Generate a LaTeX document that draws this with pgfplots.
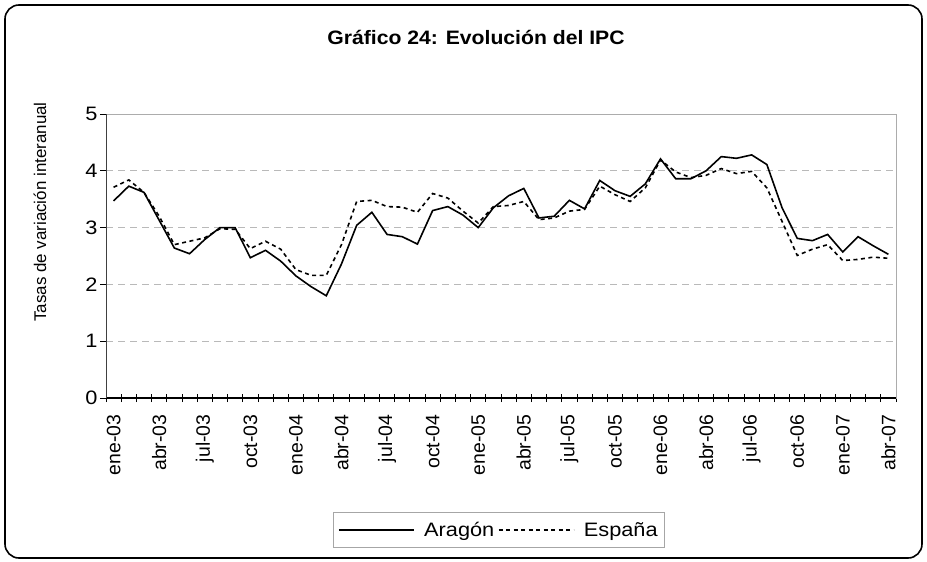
\documentclass[border=0pt]{standalone}
\usepackage{pgfplots}
\pgfplotsset{compat=1.18}
\usepackage{fontspec}
\setmainfont{Liberation Sans}
\newfontfamily\titlefont{Liberation Sans}[FakeStretch=1.09]
\newfontfamily\widefont{Liberation Sans}[FakeStretch=1.12]

\pgfplotstableread{
i A E
0 3.47 3.71
1 3.73 3.84
2 3.62 3.62
3 3.13 3.20
4 2.64 2.70
5 2.54 2.76
6 2.79 2.82
7 3.00 2.98
8 3.00 2.97
9 2.47 2.63
10 2.60 2.76
11 2.41 2.62
12 2.15 2.26
13 1.96 2.16
14 1.80 2.16
15 2.36 2.70
16 3.04 3.46
17 3.27 3.48
18 2.88 3.37
19 2.84 3.36
20 2.71 3.27
21 3.30 3.60
22 3.37 3.52
23 3.22 3.29
24 3.00 3.08
25 3.35 3.37
26 3.56 3.39
27 3.69 3.46
28 3.17 3.14
29 3.20 3.17
30 3.48 3.29
31 3.33 3.32
32 3.83 3.73
33 3.65 3.58
34 3.55 3.46
35 3.77 3.70
36 4.21 4.19
37 3.86 3.98
38 3.86 3.88
39 4.00 3.92
40 4.25 4.04
41 4.22 3.95
42 4.28 3.99
43 4.11 3.70
44 3.35 3.11
45 2.81 2.51
46 2.77 2.62
47 2.88 2.70
48 2.57 2.42
49 2.84 2.44
50 2.68 2.48
51 2.53 2.46
}\ipcdata

\newcommand\tickfont{\fontsize{19.5}{22}\selectfont}
\newcommand\widetickfont{\widefont\fontsize{19.5}{22}\selectfont}

\begin{document}
\begin{tikzpicture}[font=\tickfont]
\useasboundingbox (0,0) rectangle (927bp,-562bp);
\draw[line width=1.6bp, rounded corners=14bp] (5bp,-5bp) rectangle (922bp,-558bp);
\node[font=\titlefont\bfseries\fontsize{19.5}{22}\selectfont] at (476bp,-37bp) {Gráfico 24: Evolución del IPC};
\node[rotate=90, font=\fontsize{17}{20}\selectfont] at (40bp,-212bp) {Tasas de variación interanual};
\begin{axis}[
  at={(106bp,-398bp)}, anchor=south west, scale only axis,
  width=790bp, height=284bp,
  font=\tickfont,
  xmin=-0.5, xmax=51.5, ymin=0, ymax=5,
  ytick={0,1,...,5},
  xtick={0,3,...,51},
  xticklabels={ene-03,abr-03,jul-03,oct-03,ene-04,abr-04,jul-04,oct-04,ene-05,abr-05,jul-05,oct-05,ene-06,abr-06,jul-06,oct-06,ene-07,abr-07},
  minor xtick={-0.5,0.5,...,51.5},
  xtick pos=lower, ytick pos=left,
  tick align=center,
  major x tick style={draw=none},
  minor x tick style={black, line width=0.8bp},
  major y tick style={black, line width=0.8bp, xshift=-3bp},
  minor tick length=8bp, major tick length=6bp,
  xticklabel style={rotate=90, anchor=east, font=\tickfont},
  yticklabel style={font=\widetickfont},
  xticklabel shift=10bp,
  yticklabel shift=2bp,
  /pgf/number format/assume math mode=true,
  ymajorgrids,
  major grid style={gray!55, dash pattern=on 7bp off 5bp, line width=0.8bp},
  axis line style={draw=gray!65, line width=1bp},
  legend style={at={(0.497,-0.465)}, anchor=center, draw=gray!70, legend columns=2,
    font=\widetickfont,
    /tikz/every even column/.append style={column sep=2bp},
    /tikz/every odd column/.append style={column sep=8bp},
    nodes={inner sep=1.5bp}, inner xsep=5bp, inner ysep=8bp},
  legend image code/.code={\draw[#1] (0bp,0bp) -- (75bp,0bp);},
]
\addplot[black, line width=1.6bp] table[x=i, y=A] {\ipcdata};
\addlegendentry{Aragón}
\addplot[black, line width=1.6bp, dash pattern=on 4bp off 3.5bp] table[x=i, y=E] {\ipcdata};
\addlegendentry{España}
\draw[black, line width=1.2bp] (axis cs:-0.5,0) -- (axis cs:51.5,0);
\draw[black!75, line width=1.5bp] (axis cs:-0.5,0) -- (axis cs:-0.5,5);
\end{axis}
\end{tikzpicture}
\end{document}
